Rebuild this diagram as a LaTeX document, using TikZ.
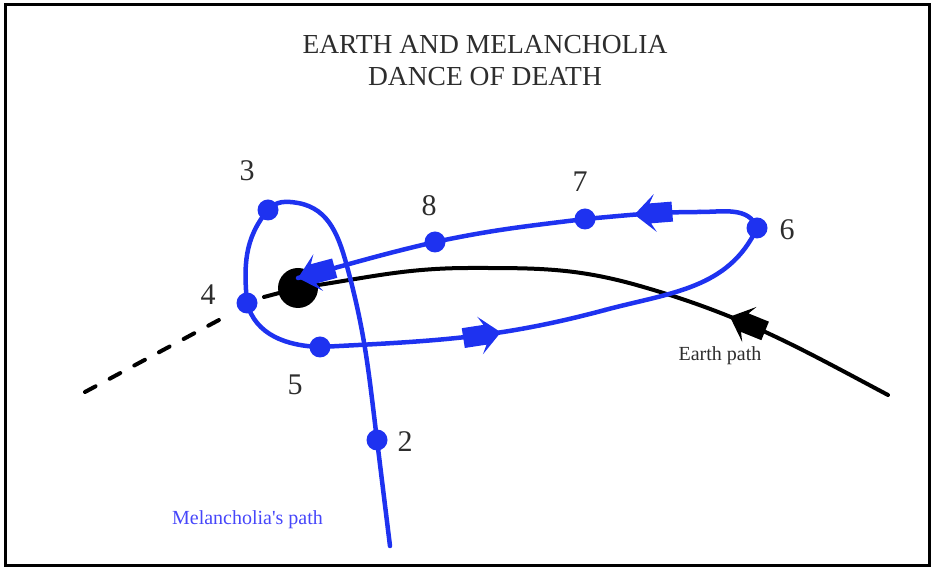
\documentclass[tikz,border=0pt]{standalone}
\usepackage{fontspec}
\setmainfont{Liberation Serif}
\usetikzlibrary{decorations.markings}
\definecolor{mblue}{RGB}{30,50,240}
\definecolor{lblue}{RGB}{70,70,250}
\definecolor{txtgray}{RGB}{45,45,45}
\pgfdeclarelayer{back}
\pgfdeclarelayer{earthl}
\pgfdeclarelayer{mid}
\pgfsetlayers{back,earthl,mid,main}
\tikzset{
  bluepath/.style={draw=mblue, line width=4.5pt, line cap=round},
  earthpath/.style={draw=black, line width=4pt, line cap=round},
  dashedearth/.style={draw=black, line width=4pt, line cap=round, dash pattern=on 12pt off 16pt},
  bdot/.style={circle, fill=mblue, minimum size=21pt, inner sep=0pt},
  earthdot/.style={circle, fill=black, minimum size=40pt, inner sep=0pt},
  numlabel/.style={font=\fontsize{30}{36}\selectfont, text=txtgray, inner sep=0pt},
  titletext/.style={font=\fontsize{27.5}{33}\selectfont, text=txtgray, inner sep=0pt},
  smalltext/.style={font=\fontsize{20}{24}\selectfont, inner sep=0pt, anchor=base},
  barrow/.style={postaction={decorate, decoration={markings, mark=at position #1 with {
      \fill[mblue] (0pt,0pt) -- (-21pt,19pt) -- (-16pt,10pt) -- (-38pt,10pt) -- (-38pt,-10pt) -- (-16pt,-10pt) -- (-21pt,-19pt) -- cycle;}}}},
  karrow/.style={postaction={decorate, decoration={markings, mark=at position #1 with {
      \fill[black] (0pt,0pt) -- (-21pt,19pt) -- (-16pt,10pt) -- (-38pt,10pt) -- (-38pt,-10pt) -- (-16pt,-10pt) -- (-21pt,-19pt) -- cycle;}}}}
}
\begin{document}
\begin{tikzpicture}[x=1pt,y=1pt]
\useasboundingbox (0,0) rectangle (932,570);
\draw[line width=3pt] (5,4) rectangle (929,565);

% title
\node[titletext] (t1) at (485,525) {EARTH AND MELANCHOLIA};
\node[titletext] (t2) at (485,493) {DANCE OF DEATH};

% helper coordinates
\coordinate (mstart) at (390,24);
\coordinate (c1) at (348,300);
\coordinate (c2) at (298,367);
\coordinate (c4) at (605,260);
\coordinate (c5) at (700,358);
\coordinate (tip) at (298,292);
\coordinate (eend) at (888,175);
\coordinate (c6) at (640,284);
\coordinate (c7) at (470,302);
\coordinate (dA) at (85,178);
\coordinate (dB) at (232,257);
\coordinate (sA) at (264,273);

% blue dots
\node[bdot] (p2) at (377,130) {};
\node[bdot] (p3) at (268,360) {};
\node[bdot] (p4) at (247,267) {};
\node[bdot] (p5) at (320,223) {};
\node[bdot] (p6) at (757,342) {};
\node[bdot] (p7) at (585,351) {};
\node[bdot] (p8) at (435,328) {};

\begin{pgfonlayer}{earthl}
\node[earthdot] (earth) at (298,282) {};
\end{pgfonlayer}

% Earth path
\begin{pgfonlayer}{back}
\draw[earthpath, karrow=0.65] (eend) to[out=152,in=-16] (c6);
\draw[earthpath] (c6) to[out=164,in=0] (c7) to[out=180,in=8] (earth.center);
\draw[earthpath] (sA) -- (earth.center);
\draw[dashedearth] (dA) -- (dB);
\end{pgfonlayer}

% Melancholia path
\begin{pgfonlayer}{mid}
\draw[bluepath] (mstart) -- (p2.center);
\draw[bluepath] (p2.center) to[out=97,in=-75] (c1) to[out=105,in=-10] (c2)
  to[out=170,in=50] (p3.center) to[out=230,in=95] (p4.center) to[out=-75,in=178] (p5.center);
\draw[bluepath, barrow=0.63] (p5.center) to[out=3,in=195] (c4);
\draw[bluepath] (c4) to[out=15,in=-115] (p6.center);
\draw[bluepath] (p6.center) to[out=110,in=0] (c5);
\draw[bluepath, barrow=0.57] (c5) to[out=180,in=5] (p7.center);
\draw[bluepath] (p7.center) to[out=187,in=12] (p8.center);
\draw[bluepath, barrow=1] (p8.center) to[out=193,in=15] (tip);
\end{pgfonlayer}

% number labels
\node[numlabel] (l2) at (405,128) {2};
\node[numlabel] (l3) at (247,399) {3};
\node[numlabel] (l4) at (208,275) {4};
\node[numlabel] (l5) at (295,185) {5};
\node[numlabel] (l6) at (787,340) {6};
\node[numlabel] (l7) at (580,388) {7};
\node[numlabel] (l8) at (429,364) {8};

\node[smalltext, text=txtgray] (ep) at (720,209) {Earth path};
\node[smalltext, text=lblue] (mp) at (247.5,45) {Melancholia\textquotesingle s path};
\end{tikzpicture}
\end{document}
